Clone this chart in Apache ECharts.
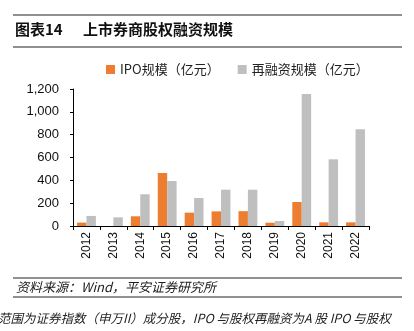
<!DOCTYPE html>
<html><head><meta charset="utf-8">
<script src="https://cdn.jsdelivr.net/npm/echarts@6/dist/echarts.min.js"></script>
<style>html,body{margin:0;padding:0;background:#fff}#c{width:414px;height:331px}</style>
</head><body><div id="c"></div>
<script>
const years = ['2012','2013','2014','2015','2016','2017','2018','2019','2020','2021','2022'];
const ipo = [30, 0, 85, 464, 117, 128, 130, 29, 210, 32, 32];
const refinance = [88, 76, 278, 394, 245, 318, 318, 44, 1156, 584, 847];
const yTicks = [0, 200, 400, 600, 800, 1000, 1200];
const seriesNames = ['IPO规模（亿元）', '再融资规模（亿元）'];

const chart = echarts.init(document.getElementById('c'), null, {renderer: 'canvas'});
const font = '"Noto Sans CJK SC", "Liberation Sans", sans-serif';
chart.setOption({
  animation: false,
  textStyle: {fontFamily: font},
  legend: {
    top: 58, left: 101, itemWidth: 9, itemHeight: 9, itemGap: 18,
    icon: 'rect',
    textStyle: {fontSize: 13, color: '#222', fontFamily: font},
    data: seriesNames
  },
  grid: {left: 73, right: 45, top: 89, bottom: 105},
  xAxis: {
    type: 'category', data: years,
    axisLine: {lineStyle: {color: '#000', width: 1}},
    axisTick: {show: true, alignWithLabel: false, length: 4, lineStyle: {color: '#000'}},
    axisLabel: {rotate: 90, color: '#111', fontSize: 12, fontFamily: '"Liberation Sans", sans-serif', margin: 6}
  },
  yAxis: {
    type: 'value', min: yTicks[0], max: yTicks[yTicks.length - 1], interval: 200,
    axisLine: {show: true, lineStyle: {color: '#000', width: 1}},
    axisTick: {show: true, inside: false, length: 3, lineStyle: {color: '#000'}},
    splitLine: {show: false},
    axisLabel: {color: '#111', fontSize: 13, margin: 14, fontFamily: '"Liberation Sans", sans-serif',
      formatter: v => v.toLocaleString('en-US')}
  },
  series: [
    {name: seriesNames[0], type: 'bar', data: ipo, barGap: '0%', barCategoryGap: '30%',
      itemStyle: {color: '#ED7D31'}},
    {name: seriesNames[1], type: 'bar', data: refinance,
      itemStyle: {color: '#BFBFBF'}}
  ],
  graphic: [
    {type: 'line', shape: {x1: 13, y1: 15, x2: 402, y2: 15}, style: {stroke: '#222', lineWidth: 1.2}},
    {type: 'text', left: 15, top: 22, style: {text: '图表14', font: 'bold 15px "Noto Sans CJK SC", sans-serif', fill: '#111'}},
    {type: 'text', left: 83, top: 22, style: {text: '上市券商股权融资规模', font: 'bold 15px "Noto Sans CJK SC", sans-serif', fill: '#111'}},
    {type: 'line', shape: {x1: 13, y1: 47, x2: 402, y2: 47}, style: {stroke: '#222', lineWidth: 1.2}},
    {type: 'line', shape: {x1: 13, y1: 278, x2: 402, y2: 278}, style: {stroke: '#222', lineWidth: 1}},
    {type: 'text', left: 16, top: 281, style: {text: '资料来源：Wind，平安证券研究所', font: 'italic 13px "Noto Sans CJK SC", sans-serif', fill: '#222'}},
    {type: 'line', shape: {x1: 13, y1: 297, x2: 402, y2: 297}, style: {stroke: '#222', lineWidth: 1}},
    {type: 'text', left: -2, top: 312, style: {text: '范围为证券指数（申万II）成分股，IPO 与股权再融资为A 股 IPO 与股权', font: 'italic 12.5px "Noto Sans CJK SC", sans-serif', fill: '#222'}}
  ]
});
</script></body></html>
